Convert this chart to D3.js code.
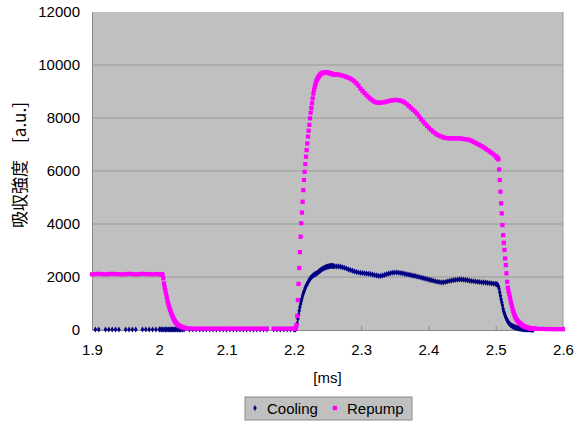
<!DOCTYPE html>
<html>
<head>
<meta charset="utf-8">
<script src="https://cdn.jsdelivr.net/npm/d3@7"></script>
<style>
  body { margin: 0; background: #fff; }
  svg text { font-family: "Liberation Sans", Arial, sans-serif; fill: #000; }
  .ylabel { font-family: "Noto Sans CJK JP", "Liberation Sans", sans-serif; }
</style>
</head>
<body>
<div id="chart"></div>
<script>
// sample times [ms] (finer where the signal moves fast)
const time = [
    1.900, 1.905, 1.910, 1.915, 1.920, 1.925, 1.930, 1.935, 1.940, 1.945, 1.950,
    1.955, 1.960, 1.965, 1.970, 1.975, 1.980, 1.985, 1.990, 1.995, 2.000,
    2.001, 2.002, 2.003, 2.004, 2.005, 2.006, 2.007, 2.008, 2.009, 2.010,
    2.011, 2.012, 2.013, 2.014, 2.015, 2.016, 2.017, 2.018, 2.019, 2.020,
    2.021, 2.022, 2.023, 2.024, 2.025, 2.026, 2.027, 2.028, 2.029, 2.030,
    2.031, 2.032, 2.033, 2.034, 2.035, 2.036, 2.037, 2.038, 2.039, 2.040,
    2.045, 2.050, 2.055, 2.060, 2.065, 2.070, 2.075, 2.080, 2.085, 2.090,
    2.095, 2.100, 2.105, 2.110, 2.115, 2.120, 2.125, 2.130, 2.135, 2.140,
    2.145, 2.150, 2.155, 2.160, 2.165, 2.170, 2.175, 2.180, 2.185, 2.190,
    2.195, 2.200,
    2.201, 2.202, 2.203, 2.204, 2.205, 2.206, 2.207, 2.208, 2.209, 2.210,
    2.211, 2.212, 2.213, 2.214, 2.215, 2.216, 2.217, 2.218, 2.219, 2.220,
    2.221, 2.222, 2.223, 2.224, 2.225, 2.226, 2.227, 2.228, 2.229, 2.230,
    2.231, 2.232, 2.233, 2.234, 2.235, 2.236, 2.237, 2.238, 2.239, 2.240,
    2.241, 2.242, 2.243, 2.244, 2.245, 2.246, 2.247, 2.248, 2.249, 2.250,
    2.251, 2.252, 2.253, 2.254, 2.255, 2.256, 2.257, 2.258, 2.259, 2.260,
    2.263, 2.266, 2.269, 2.272, 2.275, 2.278, 2.281, 2.284, 2.287, 2.290,
    2.293, 2.296, 2.299, 2.302, 2.305, 2.308, 2.311, 2.314, 2.317, 2.320,
    2.323, 2.326, 2.329, 2.332, 2.335, 2.338, 2.341, 2.344, 2.347, 2.350,
    2.353, 2.356, 2.359, 2.362, 2.365, 2.368, 2.371, 2.374, 2.377, 2.380,
    2.383, 2.386, 2.389, 2.392, 2.395, 2.398, 2.401, 2.404, 2.407, 2.410,
    2.413, 2.416, 2.419, 2.422, 2.425, 2.428, 2.431, 2.434, 2.437, 2.440,
    2.443, 2.446, 2.449, 2.452, 2.455, 2.458, 2.461, 2.464, 2.467, 2.470,
    2.473, 2.476, 2.479, 2.482, 2.485, 2.488, 2.491, 2.494, 2.497, 2.500,
    2.501, 2.502, 2.503, 2.504, 2.505, 2.506, 2.507, 2.508, 2.509, 2.510,
    2.511, 2.512, 2.513, 2.514, 2.515, 2.516, 2.517, 2.518, 2.519, 2.520,
    2.521, 2.522, 2.523, 2.524, 2.525, 2.526, 2.527, 2.528, 2.529, 2.530,
    2.531, 2.532, 2.533, 2.534, 2.535, 2.536, 2.537, 2.538, 2.539, 2.540,
    2.541, 2.542, 2.543, 2.544, 2.545, 2.546, 2.547, 2.548, 2.549, 2.550,
    2.551, 2.552, 2.553, 2.554, 2.555, 2.556, 2.557, 2.558, 2.559, 2.560,
    2.565, 2.570, 2.575, 2.580, 2.585, 2.590, 2.595, 2.600
];

const cooling = [
    null, 20, 20, null, 20, 20, 20, 20, 20, null, 20,
    20, 20, 20, null, 20, 20, 20, 20, 20, 20,
    20, null, 20, 20, null, 20, 20, null, 20, 20,
    20, null, 20, 20, null, 20, 20, 20, null, 20,
    20, null, 20, 20, 20, null, 20, 20, null, 20,
    20, 20, null, 20, 20, null, 20, null, null, null,
    20, 20, 20, 20, 20, 20, 20, 20, 20, 20,
    20, 20, 20, 20, 20, 20, 20, 20, 20, 20,
    20, 20, 20, 20, null, 20, 20, 20, 20, 20,
    20, 20,
    20, 20, 30, 100, 250, 420, 580, 730, 860, 980,
    1090, 1190, 1290, 1380, 1450, 1520, 1590, 1650, 1700, 1750,
    1800, 1850, 1890, 1930, 1960, 1990, 2020, 2040, 2060, 2080,
    2100, 2110, 2130, 2140, 2160, 2180, 2200, 2220, 2240, 2260,
    2280, 2300, 2310, 2330, 2340, 2350, 2360, 2370, 2380, 2390,
    2400, 2400, 2410, 2410, 2420, 2420, 2420, 2410, 2410, 2410,
    2400, 2400, 2390, 2370, 2350, 2320, 2290, 2260, 2240, 2210,
    2190, 2170, 2160, 2150, 2140, 2130, 2120, 2110, 2090, 2070,
    2060, 2040, 2040, 2060, 2080, 2110, 2130, 2150, 2160, 2170,
    2170, 2160, 2150, 2140, 2120, 2100, 2090, 2070, 2050, 2040,
    2020, 2000, 1980, 1960, 1940, 1920, 1900, 1880, 1860, 1840,
    1820, 1810, 1800, 1800, 1810, 1830, 1850, 1860, 1880, 1890,
    1900, 1910, 1910, 1900, 1890, 1880, 1860, 1850, 1840, 1830,
    1820, 1810, 1800, 1800, 1790, 1780, 1770, 1760, 1750, 1740,
    1730, 1720, 1700, 1650, 1560, 1420, 1290, 1160, 1050, 930,
    800, 700, 620, 550, 480, 420, 370, 320, 280, 250,
    220, 195, 175, 160, 145, 130, 118, 108, 98, 90,
    82, 75, 68, 62, 56, 50, 46, 42, 38, 35,
    32, 30, 28, 26, 25, 24, 22, 20, 20, 18,
    18, 16, 15, 15, 14, 12, null, null, null, null,
    null, null, null, null, null, null, null, null
];

const repump = [
    2100, 2110, 2120, 2110, 2100, 2110, 2120, 2110, 2110, 2100, 2110,
    2120, 2110, 2100, 2110, 2120, 2110, 2110, 2100, 2110, 2110,
    2110, 2100, 2110, 2100, 2080, 1950, 1760, 1620, 1500, 1380,
    1250, 1120, 1030, 930, 840, 760, 690, 620, 560, 500,
    440, 390, 340, 300, 265, 240, 210, 190, 170, 155,
    140, 130, 120, 110, 100, 90, 80, 75, 70, 65,
    60, 55, 50, 50, 50, 50, 50, 50, 50, 50,
    50, 50, 50, 50, 50, 50, 50, 50, 50, 50,
    50, 50, 50, 50, null, 50, 50, 50, 50, 50,
    50, 50,
    50, 60, 80, 190, 530, 1130, 1740, 2340, 2940, 3520,
    4030, 4430, 4840, 5280, 5660, 5970, 6260, 6540, 6790, 7040,
    7300, 7520, 7740, 7990, 8200, 8380, 8560, 8740, 8920, 9060,
    9170, 9270, 9360, 9430, 9480, 9520, 9560, 9600, 9630, 9660,
    9680, 9690, 9700, 9710, 9720, 9720, 9730, 9720, 9720, 9710,
    9710, 9700, 9690, 9680, 9680, 9670, 9660, 9650, 9640, 9640,
    9650, 9640, 9620, 9600, 9580, 9550, 9520, 9490, 9440, 9380,
    9310, 9220, 9110, 9020, 8940, 8860, 8790, 8720, 8660, 8610,
    8580, 8570, 8580, 8590, 8600, 8620, 8640, 8660, 8670, 8680,
    8680, 8670, 8650, 8620, 8580, 8520, 8450, 8380, 8310, 8240,
    8160, 8060, 7960, 7870, 7780, 7700, 7620, 7550, 7480, 7420,
    7370, 7330, 7300, 7270, 7250, 7240, 7230, 7230, 7230, 7230,
    7230, 7230, 7220, 7210, 7200, 7190, 7170, 7140, 7100, 7060,
    7020, 6980, 6940, 6890, 6840, 6790, 6730, 6680, 6620, 6560,
    6530, 6500, 6480, 6440, 6060, 5660, 5220, 4780, 4400, 3960,
    3580, 3290, 3020, 2700, 2450, 2140, 1820, 1600, 1480, 1360,
    1240, 1130, 1010, 900, 800, 710, 630, 560, 500, 450,
    400, 360, 330, 300, 270, 250, 230, 210, 190, 170,
    150, 140, 130, 120, 110, 100, 90, 85, 80, 70,
    65, 60, 60, 55, 55, 50, 50, 45, 45, 45,
    40, 40, 35, 35, 30, 30, 30, 30
];

const xTicks = [1.9, 2.0, 2.1, 2.2, 2.3, 2.4, 2.5, 2.6];
const yTicks = [0, 2000, 4000, 6000, 8000, 10000, 12000];
const seriesNames = ["Cooling", "Repump"];
const seriesColors = ["#000080", "#ff00ff"];

const margin = {top: 12, right: 13, bottom: 91, left: 92};
const totalW = 576, totalH = 421;
const width = totalW - margin.left - margin.right;
const height = totalH - margin.top - margin.bottom;

const svg = d3.select("#chart").append("svg")
    .attr("width", totalW)
    .attr("height", totalH);

const g = svg.append("g")
    .attr("transform", `translate(${margin.left},${margin.top})`);

const x = d3.scaleLinear().domain([1.9, 2.6]).range([0, width]);
const y = d3.scaleLinear().domain([0, 12000]).range([height, 0]);

// plot area
g.append("rect")
    .attr("width", width)
    .attr("height", height)
    .attr("fill", "#c0c0c0");

// horizontal gridlines
g.selectAll(".grid")
    .data(yTicks.slice(1, -1))
    .enter().append("line")
    .attr("x1", 0).attr("x2", width)
    .attr("y1", d => y(d)).attr("y2", d => y(d))
    .attr("stroke", "#989898")
    .attr("stroke-width", 1);

// right border
g.append("line")
    .attr("x1", width).attr("x2", width)
    .attr("y1", 0).attr("y2", height)
    .attr("stroke", "#999");

// axes
const xAxis = d3.axisBottom(x).tickValues(xTicks)
    .tickFormat(d => String(+d.toFixed(1)))
    .tickSizeInner(-4).tickSizeOuter(0).tickPadding(14);
const yAxis = d3.axisLeft(y).tickValues(yTicks)
    .tickFormat(d => String(d))
    .tickSizeInner(0).tickSizeOuter(0).tickPadding(12);

const xg = g.append("g")
    .attr("transform", `translate(0,${height})`)
    .call(xAxis);
const yg = g.append("g").call(yAxis);

[xg, yg].forEach(a => {
    a.select(".domain").attr("stroke", "#888");
    a.selectAll(".tick line").attr("stroke", "#888");
    a.selectAll("text").style("font-size", "15px")
        .style("font-family", "'Liberation Sans', Arial, sans-serif");
});

// series
const sym = [d3.symbolDiamond, d3.symbolSquare];
const sizes = [11, 18];
[cooling, repump].forEach((vals, k) => {
    const pts = time.map((t, i) => ({t: t, v: vals[i]})).filter(d => d.v !== null);
    g.append("g").selectAll("path")
        .data(pts)
        .enter().append("path")
        .attr("d", d3.symbol().type(sym[k]).size(sizes[k]))
        .attr("transform", d => `translate(${x(d.t)},${y(d.v)})`)
        .attr("fill", seriesColors[k]);
});

// axis titles
svg.append("text")
    .attr("class", "ylabel")
    .attr("transform", `translate(26,${margin.top + height / 2 - 6}) rotate(-90)`)
    .attr("text-anchor", "middle")
    .style("font-size", "17px")
    .text("吸収強度\u3000[a.u.]");

svg.append("text")
    .attr("x", margin.left + width / 2)
    .attr("y", 383)
    .attr("text-anchor", "middle")
    .style("font-size", "15px")
    .text("[ms]");

// legend
const legend = svg.append("g");
legend.append("rect")
    .attr("x", 245).attr("y", 397)
    .attr("width", 167).attr("height", 23)
    .attr("fill", "#c0c0c0")
    .attr("stroke", "#888");

const legX = [255, 335];
seriesNames.forEach((name, k) => {
    legend.append("path")
        .attr("d", d3.symbol().type(sym[k]).size(sizes[k]))
        .attr("transform", `translate(${legX[k]},408)`)
        .attr("fill", seriesColors[k]);
    legend.append("text")
        .attr("x", legX[k] + 12)
        .attr("y", 414)
        .style("font-size", "15px")
        .text(name);
});
</script>
</body>
</html>
